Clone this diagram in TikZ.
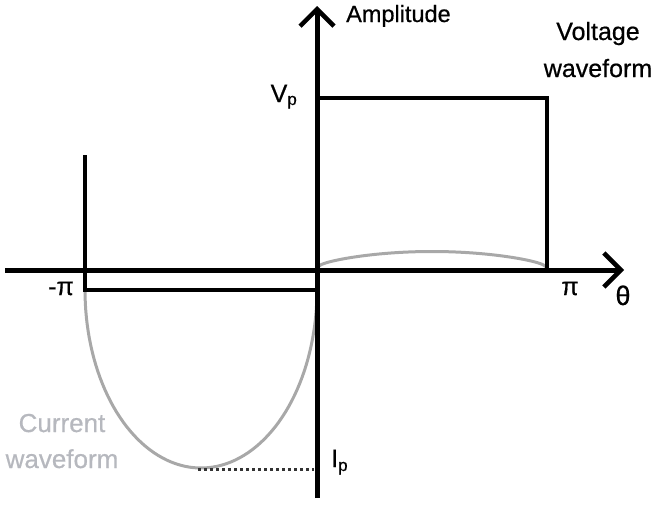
\documentclass[tikz,border=0pt]{standalone}
\usepackage{fontspec}
\setmainfont[FakeBold=0.6]{Liberation Sans}
\usetikzlibrary{arrows.meta}
\definecolor{curvegray}{RGB}{168,168,168}
\definecolor{labelgray}{RGB}{182,184,190}
\tikzset{
  axis/.style={line width=5pt,-{Straight Barb[length=17pt,width=34pt,line width=4.5pt]}},
  wave/.style={line width=3.5pt,line join=miter},
  graycurve/.style={line width=3pt,curvegray},
  lbl/.style={inner sep=0pt,anchor=base},
}
\newcommand{\fs}[1]{\fontsize{#1}{#1}\selectfont}
\begin{document}
\begin{tikzpicture}[x=1pt,y=-1pt]
\useasboundingbox (0,0) rectangle (658,504);
% coordinates
\coordinate (xl) at (5,270);
\coordinate (xr) at (624,270);
\coordinate (yb) at (317,498);
\coordinate (yt) at (317,6);
\coordinate (vtl) at (317,98);
\coordinate (vtr) at (547,98);
\coordinate (vbr) at (547,270);
\coordinate (lt) at (85,155);
\coordinate (lb) at (85,290);
\coordinate (ob) at (317,290);
\coordinate (imin) at (198,469);
\coordinate (iax) at (314,469);
% gray curves
\draw[graycurve] plot[domain=180:360,samples=80] ({201+116*cos(\x)},{290-178*sin(\x)});
\draw[graycurve] plot[domain=0:1,samples=80] ({318+228*\x},{267-15.5*(sin(180*\x))^0.6});
% dotted line
\draw[line width=3pt,black!80,dash pattern=on 3pt off 3pt] (imin) -- (iax);
% voltage waveform
\draw[wave] (vtl) -- (vtr) -- (vbr);
% left waveform
\draw[wave] (lt) -- (lb) -- (ob);
% axes
\draw[axis] (xl) -- (xr);
\draw[axis] (yb) -- (yt);
% labels
\node[lbl,anchor=base west,font=\fs{23.5}] (amp) at (346,22) {Amplitude};
\node[lbl,font=\fs{25}] (volt1) at (598,40) {Voltage};
\node[lbl,font=\fs{25}] (volt2) at (598,77) {waveform};
\node[lbl,font=\fs{26},text=labelgray] (cur1) at (62,432) {Current};
\node[lbl,font=\fs{26},text=labelgray] (cur2) at (62,468) {waveform};
\node[lbl,anchor=base east,font=\fs{25}] (vp) at (297,102) {V\raisebox{-3pt}{\fs{17}p}};
\node[lbl,anchor=base west,font=\fs{25}] (ip) at (331,467) {I\raisebox{-4pt}{\fs{17}p}};
\node[lbl,font=\fs{25}] (mpi) at (61,295) {-π};
\node[lbl,font=\fs{25}] (ppi) at (570,295) {π};
\node[lbl,font=\fs{27}] (th) at (623,305) {θ};
\end{tikzpicture}
\end{document}
